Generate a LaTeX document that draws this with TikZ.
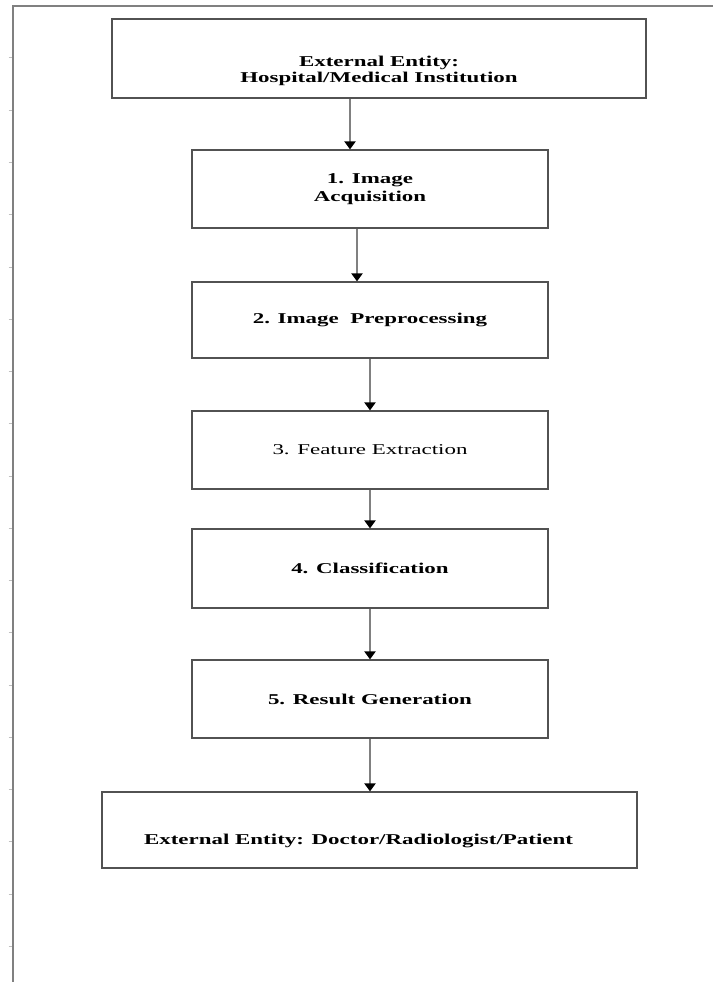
\documentclass[tikz,border=0pt]{standalone}
\usepackage{fontspec}
\setmainfont{Liberation Serif}[FakeStretch=1.53]
\usetikzlibrary{arrows.meta}
\tikzset{
  box/.style={draw=black!68, line width=2.2pt, rectangle, inner sep=0pt, align=center,
    font=\fontsize{15}{18}\selectfont\bfseries, text=black},
  arr/.style={draw=black!50, line width=2.8pt, -{Triangle[width=11pt,length=8pt,black]}, shorten >=-0.5pt},
  frameline/.style={draw=black!50, line width=2.4pt},
  tick/.style={draw=black!25, line width=1pt}
}
\begin{document}
\begin{tikzpicture}[x=1pt,y=-1pt]
\useasboundingbox (0,0) rectangle (713,982);
\fill[white] (0,0) rectangle (713,982);
% frame
\draw[frameline] (13,982) -- (13,6) -- (713,6);
\foreach \k in {0,...,17} { \draw[tick] (8.5,{58+52.25*\k}) -- (12,{58+52.25*\k}); }
% boxes
\node[box, minimum width=534pt, minimum height=79pt] (b0) at (379,58.5) {\raisebox{-24pt}[0pt][0pt]{\begin{tabular}[b]{@{}c@{}}External Entity:\\[-2pt]Hospital/Medical Institution\end{tabular}}};
\node[box, minimum width=356pt, minimum height=78pt] (b1) at (370,189) {1. Image\\Acquisition};
\node[box, minimum width=356pt, minimum height=76pt] (b2) at (370,320) {2. Image\ \ Preprocessing};
\node[box, minimum width=356pt, minimum height=78pt, font=\fontsize{15}{18}\selectfont] (b3) at (370,450) {3. Feature Extraction};
\node[box, minimum width=356pt, minimum height=79pt] (b4) at (370,568.5) {4. Classification};
\node[box, minimum width=356pt, minimum height=78pt] (b5) at (370,699) {5. Result Generation};
\node[box, minimum width=535pt, minimum height=76pt] (b6) at (369.5,830) {\hspace*{-22pt}\raisebox{-14pt}[0pt][0pt]{External Entity: Doctor/Radiologist/Patient}};
% connectors
\draw[arr] ([xshift=-29pt]b0.south) -- ([xshift=-20pt]b1.north);
\draw[arr] ([xshift=-13pt]b1.south) -- ([xshift=-13pt]b2.north);
\draw[arr] (b2.south) -- (b3.north);
\draw[arr] (b3.south) -- (b4.north);
\draw[arr] (b4.south) -- (b5.north);
\draw[arr] (b5.south) -- ([xshift=0.5pt]b6.north);
\end{tikzpicture}
\end{document}
